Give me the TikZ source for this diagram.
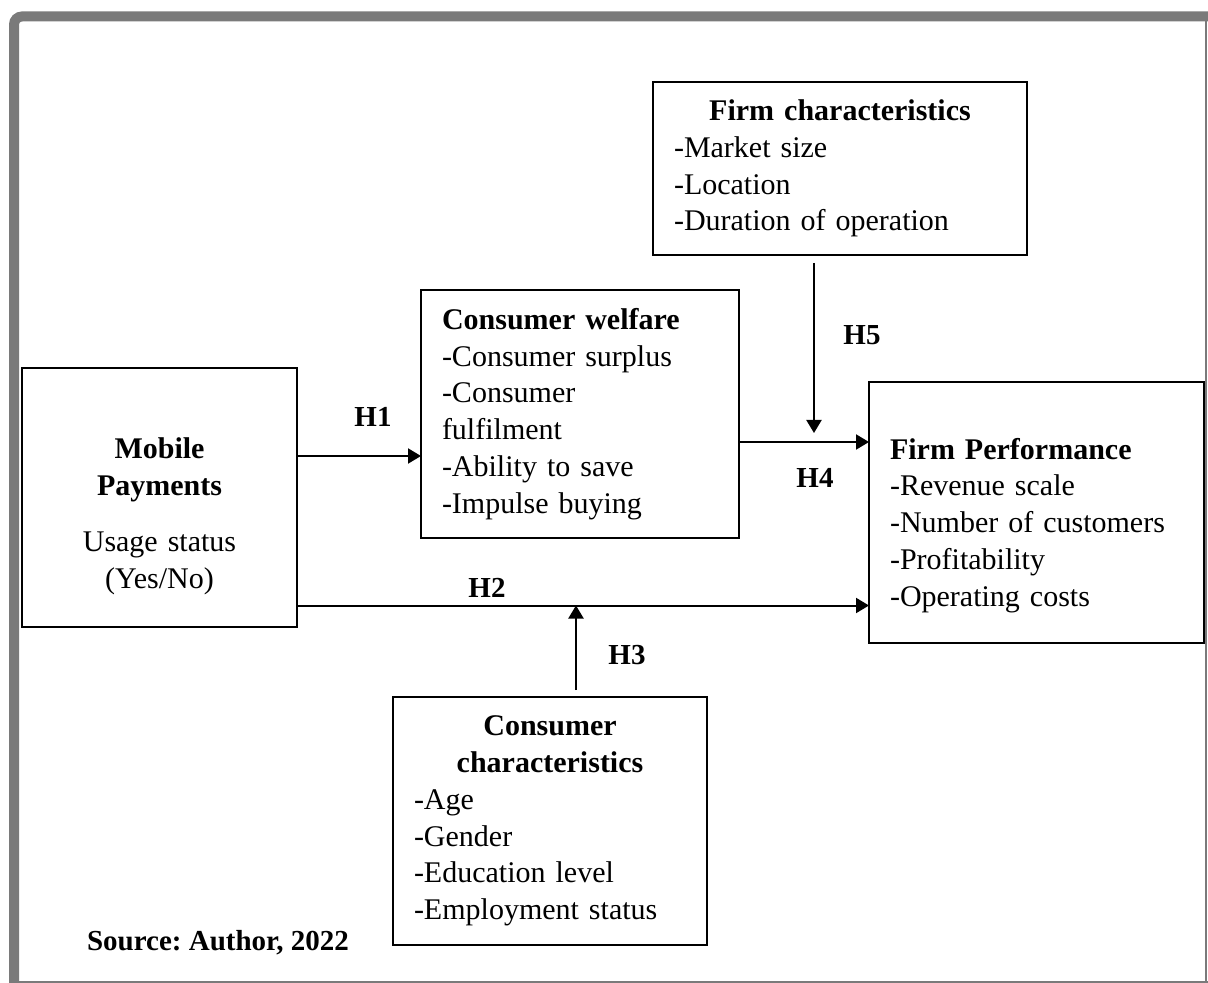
\documentclass[tikz,border=0pt]{standalone}
\usepackage{fontspec}
\setmainfont{Liberation Serif}
\frenchspacing
\usetikzlibrary{arrows.meta,positioning,calc}
\definecolor{frame}{RGB}{122,122,122}
\tikzstyle{block} = [draw, fill=white, rectangle, line width=1.3pt, outer sep=0pt,
inner xsep=10.5pt, inner ysep=2pt, font=\fontsize{15}{18.35}\selectfont]
\tikzstyle{hyp} = [inner sep=0pt, font=\fontsize{14.5}{16}\selectfont\bfseries]

\begin{document}
\begin{tikzpicture}[x=0.5pt, y=-0.5pt, line width=1pt, >={Triangle[length=6.5pt,width=7.5pt]}]
	\useasboundingbox (0,0) rectangle (1208,983);
	\draw [line width=5pt, frame, rounded corners=4pt] (14,983) -- (14,16.5) -- (1208,16.5);
	\draw [frame] (1206,16.5) -- (1206,983) (14,982) -- (1208,982);
	
	\node [block, align=center, text width=116.5pt, minimum height=129.5pt] (Mobile) at (159.5,497.5)
		{\rule{0pt}{29.3pt}\textbf{Mobile}\\\textbf{Payments}\\[10pt]Usage status\\(Yes/No)};
	\node [block, align=left, text width=138pt, minimum height=124pt, right=62pt of Mobile, yshift=41.75pt] (Welfare)
		{\textbf{Consumer welfare}\\-Consumer surplus\\-Consumer\\fulfilment\\-Ability to save\\-Impulse buying};
	\node [block, align=left, text width=146.5pt, minimum height=130.5pt, right=65pt of Welfare, yshift=-49.25pt] (FirmPerf)
		{\rule{0pt}{23.4pt}\textbf{Firm Performance}\\-Revenue scale\\-Number of customers\\-Profitability\\-Operating costs};
	\node [block, align=left, text width=166pt, minimum height=86.5pt, above=63.5pt of FirmPerf, xshift=-98.25pt] (FirmChar)
		{\makebox[\hsize]{\textbf{Firm characteristics}}\\-Market size\\-Location\\-Duration of operation};
	\node [block, align=left, text width=136pt, minimum height=124pt, below=79.5pt of Welfare, xshift=-15pt] (ConsChar)
		{\makebox[\hsize]{\textbf{Consumer}}\\\makebox[\hsize]{\textbf{characteristics}}\\-Age\\-Gender\\-Education level\\-Employment status};
	
	\coordinate (h1) at ([yshift=20.75pt]Mobile.east);
	\coordinate (h2) at ([yshift=-54pt]Mobile.east);
	\coordinate (h3) at ([xshift=13pt,yshift=3.5pt]ConsChar.north);
	\coordinate (h4) at ([yshift=-14pt]Welfare.east);
	\coordinate (h5) at ([xshift=-13pt,yshift=-4pt]FirmChar.south);
	
	\draw [->] (h1) -- (h1 -| Welfare.west);
	\draw [->] (h2) -- (h2 -| FirmPerf.west);
	\draw [->] (h3) -- (h3 |- h2);
	\draw [->] (h4) -- (h4 -| FirmPerf.west);
	\draw [->] (h5) -- ($(h5 |- h4)+(0,-9)$);
	
	\node [hyp] (H1) at (373,417) {H1};
	\node [hyp] (H2) at (487,588) {H2};
	\node [hyp] (H3) at (627,655) {H3};
	\node [hyp] (H4) at (815,478) {H4};
	\node [hyp] (H5) at (862,335) {H5};
	\node [hyp] (Source) at (218,943) {Source: Author, 2022};
	
\end{tikzpicture}
\end{document}
